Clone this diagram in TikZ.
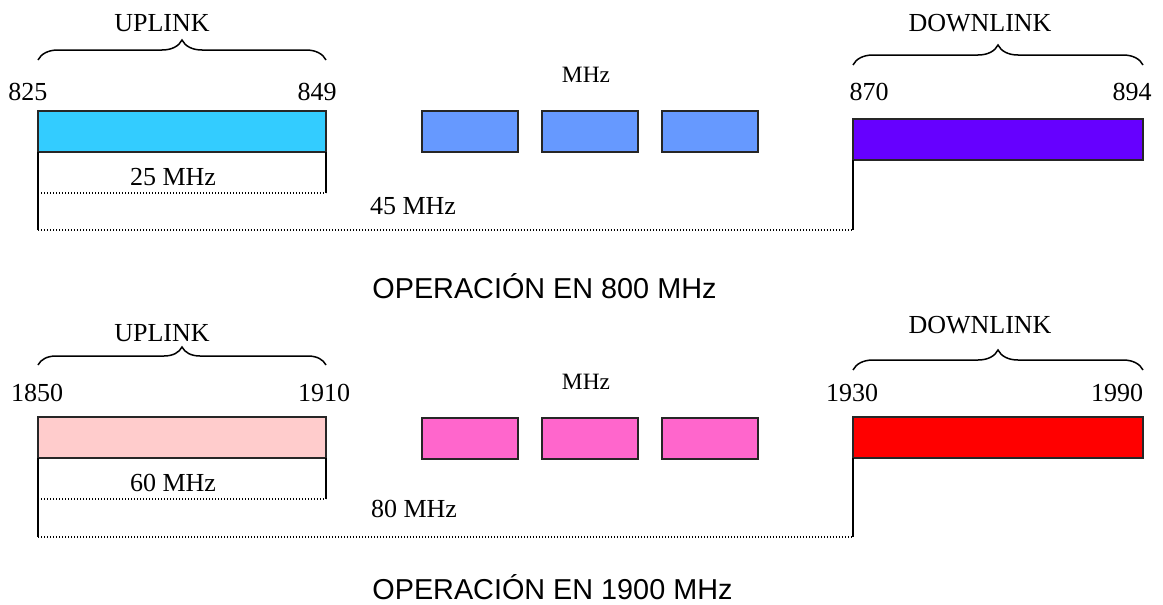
\documentclass[tikz,border=0pt]{standalone}
\usepackage{fontspec}
\setmainfont{Liberation Serif}
\newfontfamily\opfont{Liberation Sans}
\usetikzlibrary{decorations.pathreplacing}

\definecolor{upA}{HTML}{33CCFF}
\definecolor{chA}{HTML}{6699FF}
\definecolor{dnA}{HTML}{6600FF}
\definecolor{upB}{HTML}{FFCCCC}
\definecolor{chB}{HTML}{FF66CC}
\definecolor{dnB}{HTML}{FF0000}

\tikzset{
  band/.style={draw=black!85, line width=0.8pt, inner sep=0pt, outer sep=0pt, anchor=north west, minimum height=20.5pt},
  wideband/.style={band, minimum width=144pt},
  chan/.style={band, minimum width=48pt},
  lbl/.style={inner sep=0pt, anchor=base, font=\fontsize{13}{15}\selectfont},
  small/.style={inner sep=0pt, anchor=base, font=\fontsize{11.7}{14}\selectfont},
  title/.style={inner sep=0pt, anchor=base west, font=\opfont\fontsize{14.4}{17}\selectfont},
  edge/.style={line width=0.75pt},
  gap/.style={line width=0.6pt, dash pattern=on 0.6pt off 0.9pt},
  brc/.style={decorate, decoration={brace, amplitude=#1}, line width=0.75pt},
  brc/.default=10pt
}

\begin{document}
\begin{tikzpicture}[x=0.5pt, y=-0.5pt]
  \useasboundingbox (0,0) rectangle (1163,605);

  % ---------- 800 MHz ----------
  \draw[brc] (38,60) -- (326,60);
  \draw[brc] (853,65) -- (1143,65);
  \node[lbl] (upTxtA) at (162,32) {UPLINK};
  \node[lbl] (dnTxtA) at (980,32) {DOWNLINK};

  \node[lbl] (fA1) at (28,100) {825};
  \node[lbl] (fA2) at (317,100) {849};
  \node[lbl] (fA3) at (869,100) {870};
  \node[lbl] (fA4) at (1132,100) {894};
  \node[small] (mhzA) at (586,83) {MHz};

  \node[wideband, fill=upA] (upA) at (38,111) {};
  \node[chan, fill=chA] (chA1) at (422,111) {};
  \node[chan, fill=chA] (chA2) at (542,111) {};
  \node[chan, fill=chA] (chA3) at (662,111) {};
  \node[wideband, fill=dnA, minimum width=145pt] (dnA) at (853,119) {};

  % spacing marks
  \coordinate (ulA) at (38,230);
  \coordinate (umA) at (38,193);
  \coordinate (urA) at (326,193);
  \coordinate (dlA) at (853,230);
  \draw[edge] (upA.south west) -- (ulA);
  \draw[edge] (upA.south east) -- (urA);
  \draw[edge] (dnA.south west) -- (dlA);
  \draw[gap] (umA) -- (urA);
  \draw[gap] (ulA) -- (dlA);
  \node[lbl] (bwA) at (173,185) {25 MHz};
  \node[lbl] (dupA) at (413,214) {45 MHz};

  \node[title] (opA) at (372,298) {OPERACIÓN EN 800 MHz};

  % ---------- 1900 MHz ----------
  \draw[brc=9pt] (38,365) -- (326,365);
  \draw[brc] (853,370) -- (1143,370);
  \node[lbl] (upTxtB) at (162,341) {UPLINK};
  \node[lbl] (dnTxtB) at (980,333) {DOWNLINK};

  \node[lbl] (fB1) at (37,401) {1850};
  \node[lbl] (fB2) at (324,401) {1910};
  \node[lbl] (fB3) at (852,401) {1930};
  \node[lbl] (fB4) at (1117,401) {1990};
  \node[small] (mhzB) at (586,389) {MHz};

  \node[wideband, fill=upB] (upB) at (38,417) {};
  \node[chan, fill=chB] (chB1) at (422,418) {};
  \node[chan, fill=chB] (chB2) at (542,418) {};
  \node[chan, fill=chB] (chB3) at (662,418) {};
  \node[wideband, fill=dnB, minimum width=145pt] (dnB) at (853,417) {};

  % spacing marks
  \coordinate (ulB) at (38,537);
  \coordinate (umB) at (38,499);
  \coordinate (urB) at (326,499);
  \coordinate (dlB) at (853,537);
  \draw[edge] (upB.south west) -- (ulB);
  \draw[edge] (upB.south east) -- (urB);
  \draw[edge] (dnB.south west) -- (dlB);
  \draw[gap] (umB) -- (urB);
  \draw[gap] (ulB) -- (dlB);
  \node[lbl] (bwB) at (173,491) {60 MHz};
  \node[lbl] (dupB) at (414,517) {80 MHz};

  \node[title] (opB) at (372,599) {OPERACIÓN EN 1900 MHz};
\end{tikzpicture}
\end{document}
